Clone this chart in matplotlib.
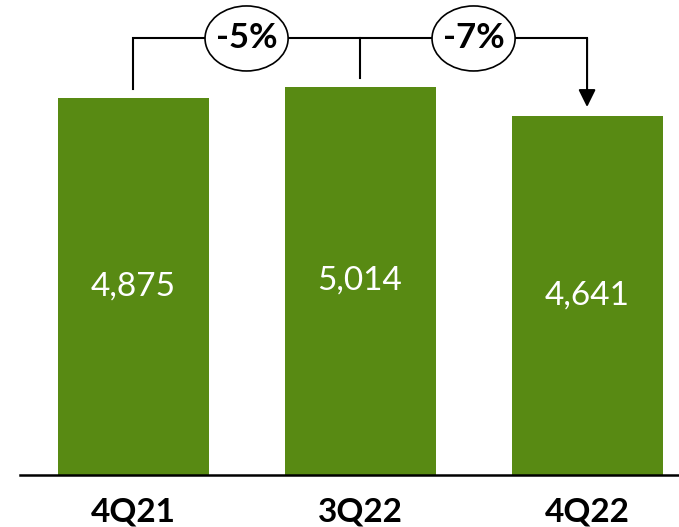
import matplotlib
matplotlib.use('Agg')
from matplotlib import pyplot as plt
from matplotlib.patches import Ellipse

quarters = ['4Q21', '3Q22', '4Q22']
revenue = [4875, 5014, 4641]

bar_color = '#588a13'
plt.rcParams['font.family'] = ['Lato', 'DejaVu Sans']

fig = plt.figure(figsize=(6.79, 5.27), dpi=100)
ax = fig.add_axes([0.0295, 0.0987, 0.9705, 0.9013])

x = list(range(len(quarters)))
ax.bar(x, revenue, width=0.665, color=bar_color, zorder=2)

for i, v in enumerate(revenue):
    ax.text(i, v / 2, f'{v:,}', ha='center', va='center',
            color='white', fontsize=24, zorder=3)

ax.set_xlim(-0.498, 2.405)
ax.set_ylim(0, 6137)

# connector with percent changes
gap = 113
top = max(revenue) + 626
ax.plot([0, 0, 2], [revenue[0] + gap, top, top], color='black', lw=1.5,
        solid_joinstyle='miter', zorder=4)
ax.plot([1, 1], [revenue[1] + gap, top], color='black', lw=1.5, zorder=4)
ax.annotate('', xy=(2, revenue[2] + gap), xytext=(2, top),
            arrowprops=dict(arrowstyle='-|>,head_length=1.05,head_width=0.52',
                            color='black', lw=1.5, shrinkA=0, shrinkB=0,
                            mutation_scale=10),
            zorder=4)

changes = [(revenue[2] / revenue[0] - 1) * 100,
           (revenue[2] / revenue[1] - 1) * 100]
for xc, ch in zip([0.5, 1.5], changes):
    ax.add_patch(Ellipse((xc, top), 0.366, 840, facecolor='white',
                         edgecolor='black', lw=1.2, zorder=5))
    ax.text(xc, top, f'{ch:.0f}%', ha='center', va='center',
            fontsize=25, fontweight='bold', zorder=6)

ax.set_xticks(x)
ax.set_xticklabels(quarters, fontsize=24, fontweight='bold')
ax.tick_params(axis='x', length=0, pad=16)
ax.set_yticks([])
for s in ['top', 'right', 'left']:
    ax.spines[s].set_visible(False)
ax.spines['bottom'].set_linewidth(1.8)
ax.spines['bottom'].set_zorder(3)

fig.savefig('out.png', dpi=100)
